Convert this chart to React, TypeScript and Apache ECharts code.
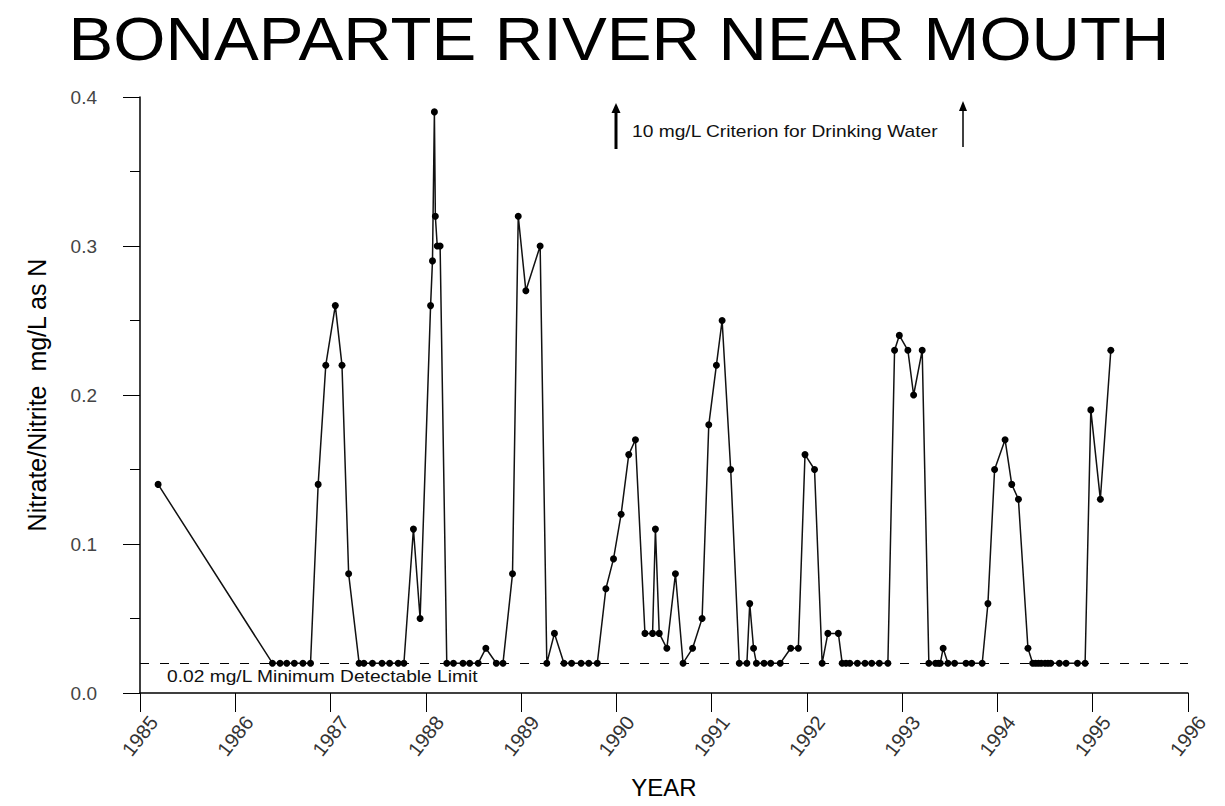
import React, { useEffect, useRef } from 'react';
import * as echarts from 'echarts';

// Sampling dates (decimal years) and nitrate/nitrite values (mg/L as N)
const sampleYears = [
  1985.19,
  1986.39, 1986.47, 1986.54, 1986.62, 1986.71, 1986.79, 1986.87, 1986.95,
  1987.05, 1987.12, 1987.19, 1987.30, 1987.35, 1987.44, 1987.54, 1987.62, 1987.71, 1987.77, 1987.87, 1987.94,
  1988.05, 1988.07, 1988.09, 1988.10, 1988.12, 1988.15, 1988.22, 1988.29, 1988.39, 1988.46, 1988.55, 1988.63, 1988.74, 1988.81, 1988.91, 1988.97,
  1989.05, 1989.20, 1989.27, 1989.35, 1989.45, 1989.53, 1989.63, 1989.71, 1989.80, 1989.89, 1989.97,
  1990.05, 1990.13, 1990.20, 1990.30, 1990.38, 1990.41, 1990.45, 1990.53, 1990.62, 1990.70, 1990.80, 1990.90, 1990.97,
  1991.05, 1991.11, 1991.20, 1991.29, 1991.37, 1991.40, 1991.44, 1991.47, 1991.55, 1991.62, 1991.72, 1991.83, 1991.91, 1991.98,
  1992.08, 1992.16, 1992.22, 1992.33, 1992.37, 1992.41, 1992.45, 1992.53, 1992.61, 1992.68, 1992.76, 1992.85, 1992.92, 1992.97,
  1993.06, 1993.12, 1993.21, 1993.28, 1993.35, 1993.38, 1993.40, 1993.43, 1993.48, 1993.55, 1993.67, 1993.73, 1993.84, 1993.90, 1993.97,
  1994.08, 1994.15, 1994.22, 1994.32, 1994.37, 1994.40, 1994.43, 1994.46, 1994.50, 1994.53, 1994.56, 1994.65, 1994.72, 1994.84, 1994.92, 1994.98,
  1995.08, 1995.19,
];

const nitrateValues = [
  0.14,
  0.02, 0.02, 0.02, 0.02, 0.02, 0.02, 0.14, 0.22,
  0.26, 0.22, 0.08, 0.02, 0.02, 0.02, 0.02, 0.02, 0.02, 0.02, 0.11, 0.05,
  0.26, 0.29, 0.39, 0.32, 0.30, 0.30, 0.02, 0.02, 0.02, 0.02, 0.02, 0.03, 0.02, 0.02, 0.08, 0.32,
  0.27, 0.30, 0.02, 0.04, 0.02, 0.02, 0.02, 0.02, 0.02, 0.07, 0.09,
  0.12, 0.16, 0.17, 0.04, 0.04, 0.11, 0.04, 0.03, 0.08, 0.02, 0.03, 0.05, 0.18,
  0.22, 0.25, 0.15, 0.02, 0.02, 0.06, 0.03, 0.02, 0.02, 0.02, 0.02, 0.03, 0.03, 0.16,
  0.15, 0.02, 0.04, 0.04, 0.02, 0.02, 0.02, 0.02, 0.02, 0.02, 0.02, 0.02, 0.23, 0.24,
  0.23, 0.20, 0.23, 0.02, 0.02, 0.02, 0.02, 0.03, 0.02, 0.02, 0.02, 0.02, 0.02, 0.06, 0.15,
  0.17, 0.14, 0.13, 0.03, 0.02, 0.02, 0.02, 0.02, 0.02, 0.02, 0.02, 0.02, 0.02, 0.02, 0.02, 0.19,
  0.13, 0.23,
];

const detectionLimit = 0.02;
const titleText = 'BONAPARTE RIVER NEAR MOUTH';
const criterionText = '10 mg/L Criterion for Drinking Water';
const limitText = '0.02 mg/L Minimum Detectable Limit';
const yAxisName = 'Nitrate/Nitrite  mg/L as N';
const xAxisName = 'YEAR';

const FONT = '"Liberation Sans", Arial, Helvetica, sans-serif';

export default function App() {
  const ref = useRef<HTMLDivElement>(null);

  useEffect(() => {
    if (!ref.current) return;
    const chart = echarts.init(ref.current, undefined, { renderer: 'svg' });
    const points = sampleYears.map((y, i) => [y, nitrateValues[i]]);

    chart.setOption({
      animation: false,
      backgroundColor: '#fff',
      grid: { left: 140, right: 37, top: 97, bottom: 113, containLabel: false },
      xAxis: {
        type: 'value',
        min: 1985,
        max: 1996,
        interval: 1,
        name: xAxisName,
        nameLocation: 'middle',
        nameGap: 82,
        nameTextStyle: { fontFamily: FONT, fontSize: 24, color: '#000' },
        axisLine: { show: true, onZero: false, lineStyle: { color: '#000', width: 1.5 } },
        axisTick: { show: true, length: 19, lineStyle: { color: '#000', width: 1 } },
        axisLabel: {
          rotate: 52,
          align: 'center',
          verticalAlign: 'middle',
          margin: 43,
          fontFamily: FONT,
          fontSize: 20,
          color: '#333',
          formatter: (v: number) => String(Math.round(v)),
        },
        splitLine: { show: false },
      },
      yAxis: {
        type: 'value',
        min: 0,
        max: 0.4,
        interval: 0.1,
        name: yAxisName,
        nameLocation: 'middle',
        nameRotate: 90,
        nameGap: 91,
        nameTextStyle: { fontFamily: FONT, fontSize: 25, color: '#000' },
        axisLine: { show: true, lineStyle: { color: '#000', width: 1.5 } },
        axisTick: { show: true, length: 17, lineStyle: { color: '#000', width: 1 } },
        minorTick: { show: true, splitNumber: 2, length: 10, lineStyle: { color: '#000', width: 1 } },
        axisLabel: {
          margin: 43,
          fontFamily: FONT,
          fontSize: 19,
          color: '#444',
          formatter: (v: number) => v.toFixed(1),
        },
        splitLine: { show: false },
      },
      series: [
        {
          type: 'line',
          data: points,
          symbol: 'circle',
          symbolSize: 7,
          showAllSymbol: true,
          itemStyle: { color: '#000' },
          lineStyle: { color: '#111', width: 1.5 },
          markLine: {
            silent: true,
            symbol: ['none', 'none'],
            label: { show: false },
            lineStyle: { color: '#000', width: 1, type: [9, 11] },
            data: [{ yAxis: detectionLimit }],
          },
          z: 3,
        },
      ],
      graphic: [
        {
          type: 'text',
          x: 619,
          y: 39,
          scaleX: 1.1,
          style: {
            text: titleText,
            font: `61px ${FONT}`,
            fill: '#000',
            textAlign: 'center',
            textVerticalAlign: 'middle',
            verticalAlign: 'middle',
          },
        },
        {
          type: 'text',
          x: 632,
          y: 132,
          scaleX: 1.2,
          style: {
            text: criterionText,
            font: `16px ${FONT}`,
            fill: '#111',
            textAlign: 'left',
            textVerticalAlign: 'middle',
            verticalAlign: 'middle',
          },
        },
        {
          type: 'text',
          x: 167,
          y: 677,
          scaleX: 1.2,
          style: {
            text: limitText,
            font: `16px ${FONT}`,
            fill: '#111',
            textAlign: 'left',
            textVerticalAlign: 'middle',
            verticalAlign: 'middle',
          },
        },
        {
          type: 'line',
          shape: { x1: 616, y1: 149, x2: 616, y2: 110 },
          style: { stroke: '#000', lineWidth: 3 },
        },
        {
          type: 'polygon',
          shape: { points: [[611.5, 113], [620.5, 113], [616, 103]] },
          style: { fill: '#000' },
        },
        {
          type: 'line',
          shape: { x1: 963, y1: 147, x2: 963, y2: 108 },
          style: { stroke: '#000', lineWidth: 1.5 },
        },
        {
          type: 'polygon',
          shape: { points: [[959, 111], [967, 111], [963, 101]] },
          style: { fill: '#000' },
        },
      ],
    });

    return () => chart.dispose();
  }, []);

  return <div ref={ref} style={{ width: 1225, height: 806, position: 'absolute', left: 0, top: 0 }} />;
}
